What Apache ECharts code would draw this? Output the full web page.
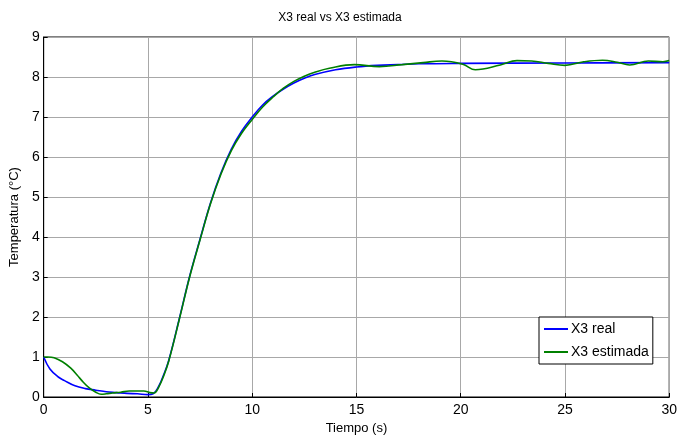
<!DOCTYPE html>
<html>
<head>
<meta charset="utf-8">
<script src="https://cdn.jsdelivr.net/npm/echarts@6/dist/echarts.min.js"></script>
<style>
  html, body { margin: 0; padding: 0; background: #fff; }
  #chart { width: 680px; height: 440px; }
</style>
</head>
<body>
<div id="chart"></div>
<script>
// tiempos y valores
var tReal = [0, 0.3, 0.7, 1, 1.5, 2, 2.5, 3, 3.5, 4, 4.5, 5, 5.25, 5.5, 5.75, 6, 6.5, 7, 7.5, 8, 8.5, 9, 9.5, 10, 10.5, 11, 11.5, 12, 12.5, 13, 14, 15, 16, 17, 18, 20, 25, 30];
var x3Real = [1.0, 0.7, 0.5, 0.41, 0.28, 0.21, 0.17, 0.13, 0.11, 0.09, 0.08, 0.06, 0.08, 0.25, 0.55, 0.92, 1.95, 3.02, 3.95, 4.85, 5.6, 6.2, 6.65, 7.0, 7.3, 7.52, 7.7, 7.85, 7.97, 8.06, 8.18, 8.25, 8.29, 8.31, 8.33, 8.34, 8.35, 8.36];

var tEst = [0, 0.2, 0.5, 0.9, 1.3, 1.6, 1.9, 2.2, 2.5, 2.75, 3, 3.3, 3.7, 4.1, 4.5, 4.8, 5.1, 5.3, 5.5, 5.75, 6, 6.5, 7, 7.5, 8, 8.5, 9, 9.5, 10, 10.5, 11, 11.5, 12, 12.5, 13, 13.7, 14.9, 16.1, 17.2, 18.2, 19.1, 20.1, 20.7, 21.9, 22.7, 23.4, 24.2, 25, 25.9, 26.8, 27.5, 28.1, 29, 29.7, 30];
var x3Est = [1.0, 1.0, 0.98, 0.88, 0.72, 0.55, 0.37, 0.22, 0.12, 0.07, 0.08, 0.1, 0.12, 0.15, 0.15, 0.15, 0.11, 0.1, 0.23, 0.52, 0.9, 1.93, 3.0, 3.93, 4.83, 5.57, 6.16, 6.6, 6.94, 7.25, 7.5, 7.72, 7.89, 8.02, 8.12, 8.22, 8.31, 8.26, 8.31, 8.36, 8.4, 8.32, 8.18, 8.3, 8.41, 8.4, 8.34, 8.29, 8.38, 8.42, 8.37, 8.3, 8.4, 8.38, 8.41];

var xTicks = [0, 5, 10, 15, 20, 25, 30];
var yTicks = [0, 1, 2, 3, 4, 5, 6, 7, 8, 9];

function pairs(t, v) {
    var res = [];
    for (var i = 0; i < t.length; i++) {
        res.push([t[i], v[i]]);
    }
    return res;
}

var fuente = "'Liberation Sans', Arial, sans-serif";

var option = {
    animation: false,
    backgroundColor: '#fff',
    title: {
        text: 'X3 real vs X3 estimada',
        left: 'center',
        top: 7,
        textStyle: { color: '#000', fontSize: 12, fontWeight: 'normal', fontFamily: fuente }
    },
    legend: {
        data: ['X3 real', 'X3 estimada'],
        orient: 'vertical',
        left: 539,
        top: 317,
        padding: [5, 4, 5, 5],
        icon: 'rect',
        itemWidth: 24,
        itemHeight: 2,
        itemGap: 9,
        backgroundColor: '#fff',
        borderColor: '#000',
        borderWidth: 1,
        borderRadius: 0,
        textStyle: { color: '#000', fontSize: 14, fontFamily: fuente, padding: [0, 0, 0, -2] }
    },
    grid: {
        left: 39,
        right: 7,
        top: 37,
        bottom: 43,
        show: true,
        borderColor: '#000',
        borderWidth: 1
    },
    xAxis: {
        type: 'value',
        min: 0,
        max: 30,
        interval: 5,
        name: 'Tiempo (s)',
        nameLocation: 'middle',
        nameGap: 24,
        nameTextStyle: { color: '#000', fontSize: 13, fontFamily: fuente },
        axisLine: { lineStyle: { color: '#000' } },
        axisTick: { inside: true, length: 4, lineStyle: { color: '#000' } },
        axisLabel: { color: '#000', fontSize: 14, margin: 6, fontFamily: fuente,
            formatter: function (v) { return xTicks.indexOf(v) >= 0 ? String(v) : ''; } },
        splitLine: { show: true, lineStyle: { color: '#a8a8a8', width: 1 } }
    },
    yAxis: {
        type: 'value',
        min: 0,
        max: 9,
        interval: 1,
        name: 'Temperatura (°C)',
        nameLocation: 'middle',
        nameGap: 22,
        nameTextStyle: { color: '#000', fontSize: 13, fontFamily: fuente },
        axisLine: { show: true, lineStyle: { color: '#000' } },
        axisTick: { show: true, inside: true, length: 4, lineStyle: { color: '#000' } },
        axisLabel: { color: '#000', fontSize: 14, margin: 4, fontFamily: fuente,
            formatter: function (v) { return yTicks.indexOf(v) >= 0 ? String(v) : ''; } },
        splitLine: { show: true, lineStyle: { color: '#a8a8a8', width: 1 } }
    },
    series: [
        {
            name: 'X3 real',
            type: 'line',
            smooth: 0.4,
            symbol: 'none',
            data: pairs(tReal, x3Real),
            lineStyle: { color: '#0000ff', width: 1.6 },
            itemStyle: { color: '#0000ff' },
            z: 2
        },
        {
            name: 'X3 estimada',
            type: 'line',
            smooth: 0.4,
            symbol: 'none',
            data: pairs(tEst, x3Est),
            lineStyle: { color: '#008000', width: 1.6 },
            itemStyle: { color: '#008000' },
            z: 3
        }
    ]
};

var chart = echarts.init(document.getElementById('chart'));
chart.setOption(option);
</script>
</body>
</html>
